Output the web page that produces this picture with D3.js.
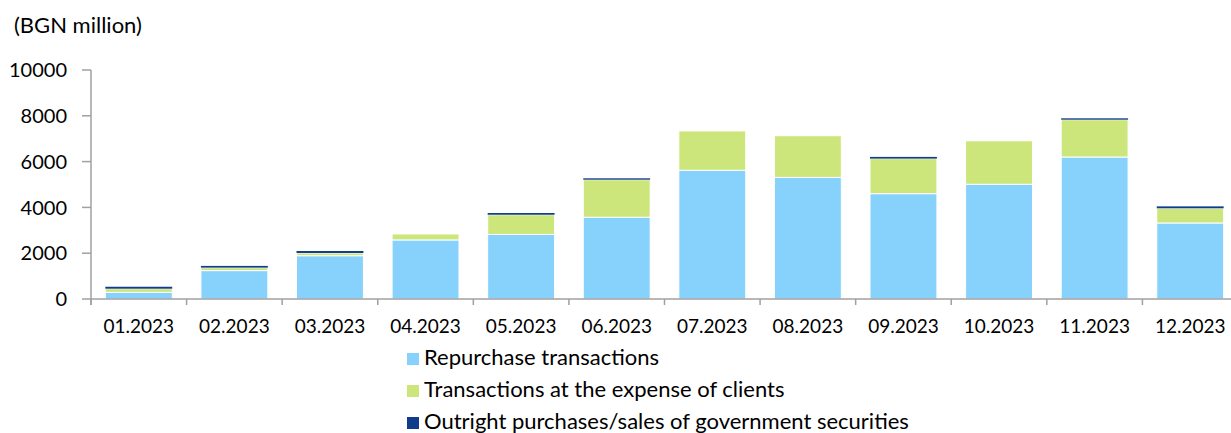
<!DOCTYPE html>
<html>
<head>
<meta charset="utf-8">
<script src="https://cdn.jsdelivr.net/npm/d3@7"></script>
<style>
  body { margin: 0; background: #fff; }
  text { font-family: Lato, "Open Sans", sans-serif; fill: #000; }
</style>
</head>
<body>
<svg id="chart" width="1231" height="433"></svg>
<script>
// data
const months = ["01.2023", "02.2023", "03.2023", "04.2023", "05.2023", "06.2023",
                "07.2023", "08.2023", "09.2023", "10.2023", "11.2023", "12.2023"]
const repo = [290, 1240, 1890, 2580, 2820, 3570, 5620, 5310, 4600, 5010, 6200, 3320]
const clients = [160, 130, 120, 260, 860, 1640, 1720, 1820, 1530, 1900, 1630, 640]
const outright = [85, 75, 85, 0, 75, 60, 0, 0, 75, 0, 60, 85]
const seriesNames = ["Repurchase transactions", "Transactions at the expense of clients",
                     "Outright purchases/sales of government securities"]
const yTicks = [0, 2000, 4000, 6000, 8000, 10000]

const colors = ["#87D2FC", "#CDE67C", "#0F3D8C"]
const axisColor = "#A0A0A0"

const svg = d3.select("#chart")

// the last band runs a little past the right edge of the picture
let plotLeft = 91
let plotRight = 1238
let plotTop = 70
let plotBottom = 299

const x = d3.scaleBand().domain(months).range([plotLeft, plotRight]).paddingInner(0.3).paddingOuter(0.15)
const y = d3.scaleLinear().domain([0, 10000]).range([plotBottom, plotTop])

// stack the three series
const rows = months.map((m, i) => ({ month: m, s0: repo[i], s1: clients[i], s2: outright[i] }))
const stacked = d3.stack().keys(["s0", "s1", "s2"])(rows)

stacked.forEach((layer, k) => {
    svg.append("g")
        .selectAll("rect")
        .data(layer)
        .join("rect")
        .attr("x", d => x(d.data.month))
        .attr("width", x.bandwidth())
        .attr("y", d => y(d[1]))
        .attr("height", d => Math.max(0, y(d[0]) - y(d[1])))
        .attr("fill", colors[k])
        .attr("stroke", k < 2 ? "#fff" : "none")
        .attr("stroke-width", 1)
})

// y axis
const yAxis = svg.append("g")
yAxis.append("line")
    .attr("x1", plotLeft).attr("x2", plotLeft)
    .attr("y1", plotTop).attr("y2", plotBottom + 6)
    .attr("stroke", axisColor).attr("stroke-width", 1.5)
yAxis.selectAll("line.tick")
    .data(yTicks)
    .join("line")
    .attr("class", "tick")
    .attr("x1", plotLeft - 9).attr("x2", plotLeft)
    .attr("y1", d => y(d)).attr("y2", d => y(d))
    .attr("stroke", axisColor).attr("stroke-width", 1.5)
yAxis.selectAll("text")
    .data(yTicks)
    .join("text")
    .attr("x", 67)
    .attr("y", d => y(d))
    .attr("dy", "0.36em")
    .attr("text-anchor", "end")
    .attr("font-size", 20)
    .text(d => d)

// x axis
const step = x.step()
const xAxis = svg.append("g")
xAxis.append("line")
    .attr("x1", plotLeft).attr("x2", plotRight)
    .attr("y1", plotBottom).attr("y2", plotBottom)
    .attr("stroke", axisColor).attr("stroke-width", 1.5)
xAxis.selectAll("line.tick")
    .data(months)
    .join("line")
    .attr("class", "tick")
    .attr("x1", (d, i) => plotLeft + i * step).attr("x2", (d, i) => plotLeft + i * step)
    .attr("y1", plotBottom).attr("y2", plotBottom + 6)
    .attr("stroke", axisColor).attr("stroke-width", 1.5)
xAxis.selectAll("text")
    .data(months)
    .join("text")
    .attr("x", d => x(d) + x.bandwidth() / 2)
    .attr("y", 333)
    .attr("text-anchor", "middle")
    .attr("font-size", 19)
    .text(d => d)

// unit label
svg.append("text")
    .attr("x", 14)
    .attr("y", 33)
    .attr("font-size", 22)
    .text("(BGN million)")

// legend
const legend = svg.append("g")
seriesNames.forEach((name, k) => {
    const ly = 353 + k * 32
    legend.append("rect")
        .attr("x", 407).attr("y", ly)
        .attr("width", 12).attr("height", 12)
        .attr("fill", colors[k])
    legend.append("text")
        .attr("x", 424)
        .attr("y", ly + 12)
        .attr("font-size", 22)
        .text(name)
})
</script>
</body>
</html>
